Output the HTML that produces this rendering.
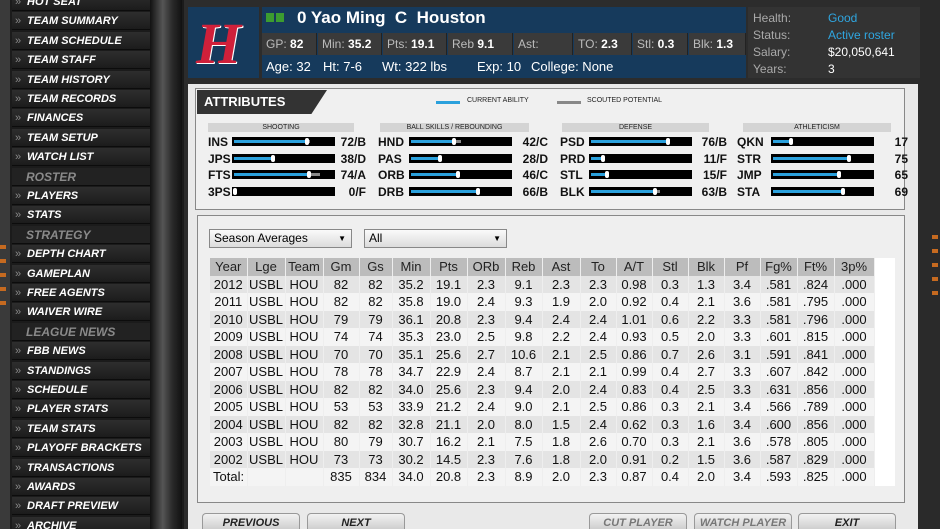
<!DOCTYPE html>
<html><head><meta charset="utf-8"><style>
*{margin:0;padding:0;box-sizing:border-box}
html,body{width:940px;height:529px;overflow:hidden}
body{background:#1b1b1b;font-family:"Liberation Sans Narrow","Liberation Sans",sans-serif;position:relative}
.a{position:absolute}
.nav{position:absolute;left:12px;width:138px;height:18px;background:linear-gradient(#2e2e2e,#1c1c1c);border-bottom:1px solid #0c0c0c;color:#fff;font:italic bold 11px "Liberation Sans",sans-serif;line-height:18px;padding-left:15px;white-space:nowrap}
.nav:before{content:"»";position:absolute;left:3px;color:#888;font-style:normal;font-weight:normal}
.nav.h{color:#8a8a8a;font-size:12px;padding-left:14px;background:#222}
.nav.h:before{content:""}
.cell{position:absolute;top:33px;height:22px;background:#3a3a3a;border-right:1px solid #222;color:#bbb;font-size:12px;line-height:22px;padding-left:4px}
.cell b{color:#fff}
.wt{color:#fff;font-size:13px}
.lbl{position:absolute;font:bold 12px "Liberation Sans Narrow","Liberation Sans",sans-serif;color:#111}
.bar{position:absolute;height:9px;background:#000;width:103px}
.sec{position:absolute;top:123px;height:9px;background:#d4d4d4;font:7px "Liberation Sans",sans-serif;text-align:center;line-height:9px;color:#222}
table{position:absolute;left:210px;top:258px;border-collapse:collapse;font-size:13px;color:#111}
td{height:17.5px;text-align:center;padding:0;border-right:1px solid #eee}
tr:nth-child(odd) td{background:#f4f4f4}
tr:nth-child(even) td{background:#e4e4e4}
tr.hd td{background:#bcbcbc;color:#222}
.btn{position:absolute;top:513px;height:16px;width:98px;border:1px solid #999;border-bottom:none;border-radius:4px 4px 0 0;background:linear-gradient(#f2f2f2,#cfcfcf);font:italic bold 11px "Liberation Sans",sans-serif;text-align:center;line-height:18px;color:#222;overflow:hidden}
</style></head><body>
<div class="a" style="left:0;top:0;width:10px;height:529px;background:#3a3a3a"></div>
<div class="a" style="left:150px;top:0;width:32px;height:529px;background:linear-gradient(90deg,#111,#555 40%,#2a2a2a 70%,#111)"></div>
<div class="a" style="left:920px;top:0;width:20px;height:529px;background:#2a2a2a"></div>
<div class="a" style="left:932px;top:235px;width:6px;height:60px;background:repeating-linear-gradient(#c66a20 0 4px,#2a2a2a 4px 14px)"></div>
<div class="a" style="left:0;top:245px;width:6px;height:60px;background:repeating-linear-gradient(#c66a20 0 4px,#3a3a3a 4px 14px)"></div>
<div id="nav"></div>
<div class="a" style="left:184px;top:0;width:736px;height:529px;background:#2c2c2c"></div>
<div class="a" style="left:188px;top:84px;width:730px;height:445px;background:#e9e9e9"></div>
<div class="a" style="left:188px;top:7px;width:71px;height:71px;background:#163a5c"></div>
<div class="a" style="left:196px;top:10px;font:italic bold 58px 'Liberation Serif',serif;color:#d0203a;text-shadow:1px 1px 0 #fff">H</div>
<div class="a" style="left:262px;top:7px;width:484px;height:71px;background:#163a5c"></div>
<div class="a" style="left:266px;top:13px;width:8px;height:9px;background:#3c9c30"></div>
<div class="a" style="left:276px;top:13px;width:8px;height:9px;background:#3c9c30"></div>
<div class="a" style="left:297px;top:8px;color:#fff;font:bold 17px 'Liberation Sans Narrow','Liberation Sans',sans-serif">0 Yao Ming&nbsp; C&nbsp; Houston</div>
<div class="cell" style="left:262px;width:55px">GP: <b>82</b></div>
<div class="cell" style="left:318px;width:64px">Min: <b>35.2</b></div>
<div class="cell" style="left:383px;width:64px">Pts: <b>19.1</b></div>
<div class="cell" style="left:448px;width:65px">Reb <b>9.1</b></div>
<div class="cell" style="left:514px;width:59px">Ast:</div>
<div class="cell" style="left:574px;width:58px">TO: <b>2.3</b></div>
<div class="cell" style="left:633px;width:55px">Stl: <b>0.3</b></div>
<div class="cell" style="left:689px;width:57px">Blk: <b>1.3</b></div>
<div class="a wt" style="left:266px;top:59px">Age: 32</div>
<div class="a wt" style="left:323px;top:59px">Ht: 7-6</div>
<div class="a wt" style="left:382px;top:59px">Wt: 322 lbs</div>
<div class="a wt" style="left:477px;top:59px">Exp: 10</div>
<div class="a wt" style="left:531px;top:59px">College: None</div>
<div class="a" style="left:748px;top:7px;width:172px;height:71px;background:#333"></div>
<div class="a" style="left:753px;top:10px;font-size:12px;line-height:17px;color:#aaa">Health:<br>Status:<br>Salary:<br>Years:</div>
<div class="a" style="left:828px;top:10px;font-size:12px;line-height:17px;color:#2fa6e0">Good<br>Active roster<br><span style="color:#fff">$20,050,641<br>3</span></div>
<div class="a" style="left:195px;top:88px;width:710px;height:122px;border:1px solid #888;background:#f0f0f0"></div>
<div class="a" style="left:197px;top:90px;width:130px;height:24px;background:#333;clip-path:polygon(0 0,100% 0,88% 100%,0 100%);color:#fff;font:bold 13px 'Liberation Sans',sans-serif;line-height:24px;padding-left:7px">ATTRIBUTES</div>
<div class="a" style="left:436px;top:101px;width:24px;height:3px;background:#2aa0dc"></div>
<div class="a" style="left:467px;top:97px;font:7px 'Liberation Sans',sans-serif;color:#222">CURRENT ABILITY</div>
<div class="a" style="left:557px;top:101px;width:24px;height:3px;background:#888"></div>
<div class="a" style="left:587px;top:97px;font:7px 'Liberation Sans',sans-serif;color:#222">SCOUTED POTENTIAL</div>
<div class="sec" style="left:208px;width:146px">SHOOTING</div>
<div class="sec" style="left:380px;width:149px">BALL SKILLS / REBOUNDING</div>
<div class="sec" style="left:562px;width:147px">DEFENSE</div>
<div class="sec" style="left:743px;width:148px">ATHLETICISM</div>
<div id="attr"></div>
<div class="a" style="left:197px;top:215px;width:708px;height:288px;border:1px solid #888;background:#efefef"></div>
<div class="a" style="left:209px;top:229px;width:143px;height:19px;border:1px solid #888;background:linear-gradient(#fafafa,#dcdcdc);font-size:12px;line-height:17px;padding-left:4px">Season Averages<span style="position:absolute;right:5px;font-size:8px">▼</span></div>
<div class="a" style="left:364px;top:229px;width:143px;height:19px;border:1px solid #888;background:linear-gradient(#fafafa,#dcdcdc);font-size:12px;line-height:17px;padding-left:4px">All<span style="position:absolute;right:5px;font-size:8px">▼</span></div>
<div class="a" style="left:875px;top:258px;width:20px;height:228px;background:#fff"></div>
<table id="t"></table>
<div class="btn" style="left:202px">PREVIOUS</div>
<div class="btn" style="left:307px">NEXT</div>
<div class="btn" style="left:589px;color:#777">CUT PLAYER</div>
<div class="btn" style="left:694px;color:#777">WATCH PLAYER</div>
<div class="btn" style="left:798px">EXIT</div>
<script>
var n=["HOT SEAT","TEAM SUMMARY","TEAM SCHEDULE","TEAM STAFF","TEAM HISTORY","TEAM RECORDS","FINANCES","TEAM SETUP","WATCH LIST","*ROSTER","PLAYERS","STATS","*STRATEGY","DEPTH CHART","GAMEPLAN","FREE AGENTS","WAIVER WIRE","*LEAGUE NEWS","FBB NEWS","STANDINGS","SCHEDULE","PLAYER STATS","TEAM STATS","PLAYOFF BRACKETS","TRANSACTIONS","AWARDS","DRAFT PREVIEW","ARCHIVE"];
var h="";n.forEach(function(s,i){var hd=s[0]=="*";h+='<div class="nav'+(hd?' h':'')+'" style="top:'+(-7+i*19.4)+'px">'+(hd?s.slice(1):s)+'</div>'});
document.getElementById("nav").innerHTML=h;
var at=[[208,232,338,[["INS",72,76,"72/B"],["JPS",38,38,"38/D"],["FTS",74,86,"74/A"],["3PS",0,0,"0/F"]]],
[378,409,520,[["HND",42,50,"42/C"],["PAS",28,28,"28/D"],["ORB",46,48,"46/C"],["DRB",66,69,"66/B"]]],
[560,589,699,[["PSD",76,76,"76/B"],["PRD",11,11,"11/F"],["STL",15,15,"15/F"],["BLK",63,69,"63/B"]]],
[737,771,880,[["QKN",17,17,"17"],["STR",75,75,"75"],["JMP",65,65,"65"],["STA",69,69,"69"]]]];
h="";at.forEach(function(g){g[3].forEach(function(r,i){var y=135+i*16.7;
h+='<div class="lbl" style="left:'+g[0]+'px;top:'+y+'px">'+r[0]+'</div>';
h+='<div class="bar" style="left:'+g[1]+'px;top:'+(y+2)+'px"><div class="a" style="left:2px;top:3px;height:3px;width:'+r[2]+'px;background:#888"></div><div class="a" style="left:2px;top:3px;height:3px;width:'+r[1]+'px;background:#2aa0dc"></div><div class="a" style="left:'+(r[1]+1)+'px;top:1px;width:4px;height:7px;background:#fff;border-radius:2px"></div></div>';
h+='<div class="lbl" style="left:'+(g[2])+'px;width:28px;text-align:right;top:'+y+'px">'+r[3]+'</div>';})});
document.getElementById("attr").innerHTML=h;
var w=[37,38,38,36,33,38,37,38,37,38,36,36,36,36,36,37,37,40];
var rows=[["Year","Lge","Team","Gm","Gs","Min","Pts","ORb","Reb","Ast","To","A/T","Stl","Blk","Pf","Fg%","Ft%","3p%"],
"2012 USBL HOU 82 82 35.2 19.1 2.3 9.1 2.3 2.3 0.98 0.3 1.3 3.4 .581 .824 .000",
"2011 USBL HOU 82 82 35.8 19.0 2.4 9.3 1.9 2.0 0.92 0.4 2.1 3.6 .581 .795 .000",
"2010 USBL HOU 79 79 36.1 20.8 2.3 9.4 2.4 2.4 1.01 0.6 2.2 3.3 .581 .796 .000",
"2009 USBL HOU 74 74 35.3 23.0 2.5 9.8 2.2 2.4 0.93 0.5 2.0 3.3 .601 .815 .000",
"2008 USBL HOU 70 70 35.1 25.6 2.7 10.6 2.1 2.5 0.86 0.7 2.6 3.1 .591 .841 .000",
"2007 USBL HOU 78 78 34.7 22.9 2.4 8.7 2.1 2.1 0.99 0.4 2.7 3.3 .607 .842 .000",
"2006 USBL HOU 82 82 34.0 25.6 2.3 9.4 2.0 2.4 0.83 0.4 2.5 3.3 .631 .856 .000",
"2005 USBL HOU 53 53 33.9 21.2 2.4 9.0 2.1 2.5 0.86 0.3 2.1 3.4 .566 .789 .000",
"2004 USBL HOU 82 82 32.8 21.1 2.0 8.0 1.5 2.4 0.62 0.3 1.6 3.4 .600 .856 .000",
"2003 USBL HOU 80 79 30.7 16.2 2.1 7.5 1.8 2.6 0.70 0.3 2.1 3.6 .578 .805 .000",
"2002 USBL HOU 73 73 30.2 14.5 2.3 7.6 1.8 2.0 0.91 0.2 1.5 3.6 .587 .829 .000",
"Total: _ _ 835 834 34.0 20.8 2.3 8.9 2.0 2.3 0.87 0.4 2.0 3.4 .593 .825 .000"];
h="";rows.forEach(function(r,i){if(typeof r=="string")r=r.split(" ");h+='<tr'+(i==0?' class="hd"':'')+'>';r.forEach(function(c,j){h+='<td style="width:'+w[j]+'px'+(i==12&&j==0?';text-align:left;padding-left:3px':'')+'">'+(c=="_"?"":c)+'</td>'});h+='</tr>'});
document.getElementById("t").innerHTML=h;
</script>
</body></html>
